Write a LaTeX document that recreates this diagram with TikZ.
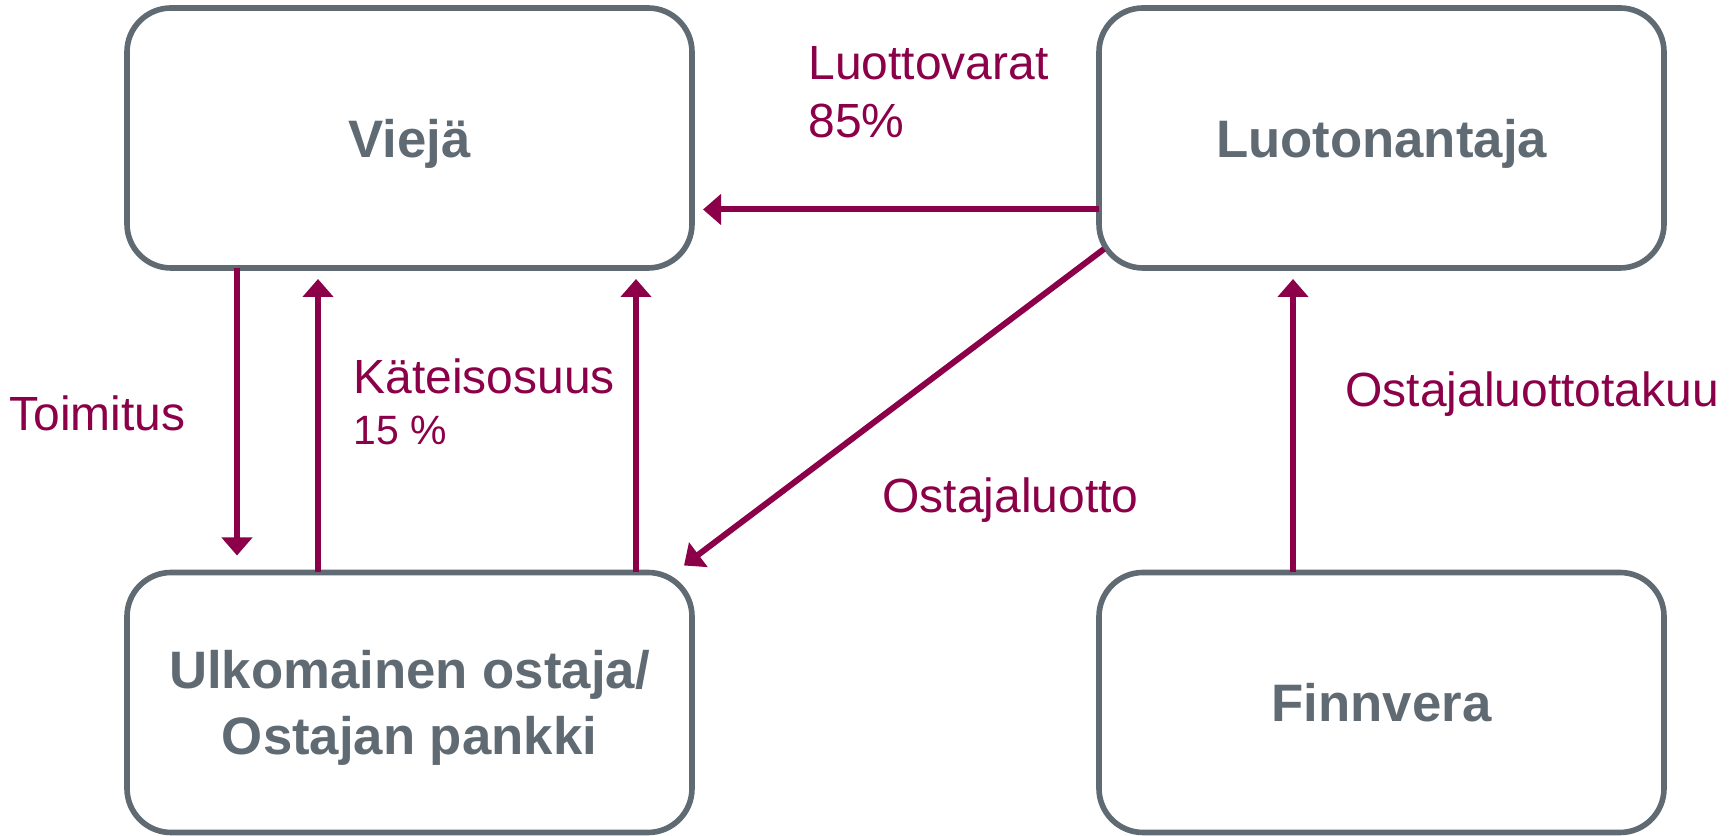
\documentclass[tikz,border=0pt]{standalone}
\usepackage{fontspec}
\setmainfont{Liberation Sans}
\usetikzlibrary{arrows.meta}
\definecolor{boxgray}{RGB}{95,106,114}
\definecolor{flowred}{RGB}{139,0,72}
\tikzset{party/.style={draw=boxgray, line width=3.2pt, rounded corners=0.88cm,
  minimum width=11.3cm, minimum height=5.2cm, outer sep=0pt, inner sep=0pt,
  text=boxgray, align=center, text depth=0pt, font=\fontsize{30}{37.6}\selectfont\bfseries},
 flow/.style={draw=flowred, line width=3.4pt, -{Triangle[width=0.6cm,length=0.36cm]}},
 flowlabel/.style={text=flowred, align=left, anchor=west, inner sep=0pt,
  font=\fontsize{27.3}{33}\selectfont},
 }

\begin{document}
\begin{tikzpicture}
        \useasboundingbox (0,0) rectangle (34.58,16.72);
        \node[party] (viej) at (8.19,13.96) {Viejä};
        \node[party] (luot) at (27.63,13.96) {Luotonantaja};
        \node[party] (ulko) at (8.19,2.67) {Ulkomainen ostaja/\\Ostajan pankki};
        \node[party] (finn) at (27.63,2.67) {Finnvera};

        \draw[flow, shorten >=0.34cm] ([xshift=2.2cm]viej.south west) -- ([xshift=2.2cm]ulko.north west);
        \draw[flow, shorten >=0.22cm] ([xshift=3.82cm]ulko.north west) -- ([xshift=3.82cm]viej.south west);
        \draw[flow, shorten >=0.22cm] ([xshift=-1.12cm]ulko.north east) -- ([xshift=-1.12cm]viej.south east);
        \draw[flow, shorten >=0.22cm] ([yshift=-1.43cm]luot.west) -- ([yshift=-1.43cm]viej.east);
        \draw[flow] ([shift={(0.1,0.38)}]luot.south west) -- ([shift={(-0.16,0.14)}]ulko.north east);
        \draw[flow, shorten >=0.22cm] ([xshift=3.88cm]finn.north west) -- ([xshift=3.88cm]luot.south west);

        \node[flowlabel] (luottovarat) at (16.16,14.88) {Luottovarat\\85\%};
        \node[flowlabel] (toimitus) at (0.18,8.46) {Toimitus};
        \node[flowlabel, anchor=base west] (kateis) at (7.06,7.83) {Käteisosuus\\[-4pt]{\fontsize{23.3}{28}\selectfont 15 \%}};
        \node[flowlabel] (ostajaluotto) at (17.64,6.72) {Ostajaluotto};
        \node[flowlabel] (takuu) at (26.9,8.84) {Ostajaluottotakuu};
\end{tikzpicture}
\end{document}
